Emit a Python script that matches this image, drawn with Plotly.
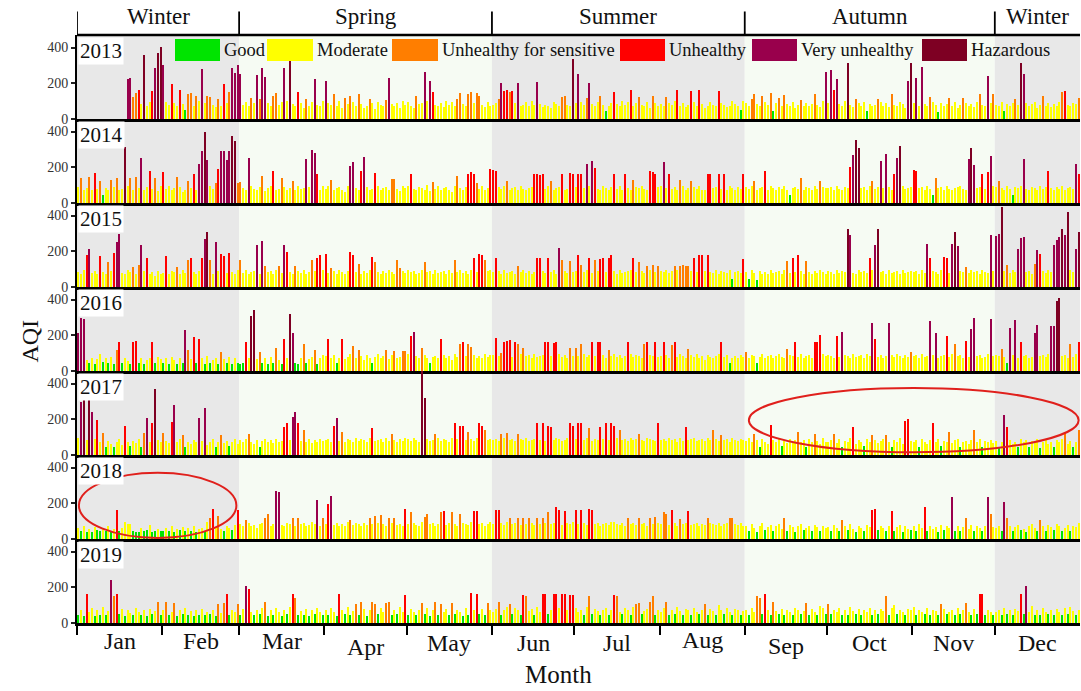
import numpy as np
import plotly.graph_objects as go
from plotly.subplots import make_subplots

# ---------------------------------------------------------------- data
YEARS = [2013, 2014, 2015, 2016, 2017, 2018, 2019]
MONTHS = ["Jan", "Feb", "Mar", "Apr", "May", "Jun",
          "Jul", "Aug", "Sep", "Oct", "Nov", "Dec"]
MONTH_DAYS = [31, 28, 31, 30, 31, 30, 31, 31, 30, 31, 30, 31]
SEASONS = ["Winter", "Spring", "Summer", "Autumn", "Winter"]
SEASON_FIRST_MONTH = [0, 2, 5, 8, 11, 12]

CATEGORIES = ["Good", "Moderate", "Unhealthy for sensitive", "Unhealthy",
              "Very unhealthy", "Hazardous"]
CATEGORY_UPPER = [50, 100, 150, 200, 300]
CATEGORY_COLORS = ["#00e400", "#ffff00", "#ff7e00", "#ff0000", "#99004c", "#7e0023"]

# daily AQI, one list per month
AQI_2013 = [
    [None] * 18 + [225, 228, 125, 145, 160, 85, 360, 75, 95, 155, 285, 370, 405],
    [300, 95, 80, 195, 90, 70, 160, 85, 48, 140, 145, 75, 130, 100, 280, 90, 130, 125, 80, 65,
     110, 70, 195, 90, 150, 283, 255, 300],
    [250, 80, 95, 70, 120, 90, 246, 110, 287, 236, 90, 75, 130, 147, 80, 95, 287, 100, 343, 85,
     70, 151, 90, 60, 110, 75, 95, 222, 80, 70, 100],
    [212, 90, 80, 141, 75, 100, 60, 120, 85, 130, 95, 70, 140, 85, 60, 75, 110, 90, 55, 95,
     80, 70, 105, 228, 85, 70, 90, 60, 100, 80],
    [95, 75, 60, 130, 85, 90, 263, 100, 212, 151, 80, 70, 90, 65, 100, 80, 95, 75, 110, 145,
     85, 70, 140, 150, 90, 145, 130, 80, 65, 95, 70],
    [80, 90, 110, 202, 155, 160, 150, 155, 90, 202, 75, 80, 95, 70, 100, 80, 205, 85, 65, 80,
     75, 60, 95, 85, 75, 121, 130, 80, 70, 333],
    [90, 252, 95, 80, 120, 202, 85, 70, 95, 131, 80, 44, 75, 90, 151, 85, 70, 100, 80, 95,
     160, 75, 90, 125, 80, 70, 95, 60, 130, 90, 75],
    [85, 70, 125, 90, 80, 100, 160, 75, 90, 65, 80, 155, 95, 70, 162, 85, 60, 75, 95, 80,
     70, 158, 90, 80, 65, 75, 100, 85, 70, 48, 100],
    [90, 75, 110, 140, 85, 70, 130, 95, 80, 145, 45, 90, 120, 75, 135, 85, 70, 95, 60, 80,
     105, 75, 90, 70, 85, 140, 80, 65, 100, 263],
    [90, 273, 160, 222, 85, 70, 100, 313, 80, 65, 110, 90, 75, 95, 42, 85, 70, 80, 110, 95,
     75, 90, 65, 141, 80, 70, 95, 85, 60, 212, 313],
    [90, 232, 75, 293, 85, 70, 125, 95, 80, 40, 90, 75, 85, 120, 70, 95, 60, 80, 115, 90,
     75, 85, 65, 95, 141, 80, 70, 242, 90, 141],
    [80, 70, 95, 45, 85, 75, 90, 110, 80, 313, 252, 90, 70, 85, 95, 60, 80, 130, 75, 90,
     65, 85, 70, 95, 150, 155, 80, 70, 90, 85, 115],
]

AQI_2014 = [
    [90, 140, 75, 85, 145, 70, 168, 80, 125, 45, 85, 75, 130, 90, 140, 70, 80, 312, 95, 140,
     75, 145, 85, 250, 70, 90, 178, 80, 140, 65, 95],
    [175, 80, 95, 70, 85, 145, 90, 60, 75, 125, 85, 160, 70, 219, 290, 400, 240, 95, 80, 110,
     190, 290, 290, 240, 290, 375, 345, 110],
    [120, 85, 70, 250, 95, 80, 75, 90, 150, 65, 85, 95, 181, 70, 80, 140, 90, 75, 85, 125,
     70, 95, 80, 85, 249, 90, 294, 280, 165, 75, 95],
    [80, 95, 130, 70, 85, 90, 75, 60, 95, 206, 230, 85, 70, 180, 256, 90, 75, 80, 168, 95,
     70, 85, 90, 75, 135, 135, 80, 65, 95, 85],
    [95, 160, 80, 70, 90, 85, 75, 100, 65, 120, 80, 95, 70, 85, 90, 75, 60, 95, 150, 85,
     70, 90, 165, 175, 165, 110, 80, 95, 75, 85, 190],
    [185, 178, 90, 80, 95, 125, 70, 85, 90, 75, 95, 80, 70, 85, 90, 160, 165, 155, 160, 80,
     95, 125, 70, 85, 90, 160, 75, 80, 170, 165],
    [90, 160, 165, 85, 219, 95, 234, 196, 80, 75, 95, 85, 70, 90, 160, 80, 95, 75, 165, 85,
     70, 130, 90, 85, 95, 80, 75, 180, 175, 165, 90],
    [95, 230, 85, 165, 80, 90, 75, 130, 95, 70, 85, 125, 90, 80, 95, 75, 70, 165, 160, 85,
     90, 165, 80, 160, 75, 95, 85, 70, 90, 80, 160],
    [90, 80, 95, 125, 70, 85, 90, 178, 75, 95, 85, 70, 90, 80, 95, 75, 45, 85, 90, 80,
     140, 75, 90, 85, 70, 95, 80, 125, 90, 85],
    [85, 90, 75, 95, 80, 70, 90, 85, 200, 271, 350, 305, 85, 90, 70, 95, 125, 80, 90, 234,
     85, 275, 90, 75, 165, 252, 318, 95, 80, 85, 90],
    [187, 178, 85, 90, 75, 95, 80, 45, 140, 85, 90, 75, 95, 80, 70, 85, 90, 95, 80, 75,
     249, 309, 210, 85, 90, 165, 80, 175, 262, 95],
    [90, 125, 85, 75, 95, 80, 45, 90, 85, 95, 249, 80, 75, 90, 85, 70, 95, 80, 90, 178,
     85, 75, 90, 80, 95, 70, 85, 90, 80, 219, 165],
]

AQI_2015 = [
    [85, 70, 95, 181, 211, 80, 90, 75, 175, 85, 70, 140, 90, 190, 252, 299, 80, 75, 95, 85,
     110, 70, 125, 237, 90, 160, 75, 85, 60, 90, 70],
    [80, 172, 75, 90, 85, 110, 70, 95, 80, 150, 160, 85, 70, 90, 160, 271, 308, 150, 75, 252,
     90, 185, 175, 80, 190, 85, 70, 95],
    [150, 80, 95, 70, 85, 90, 234, 75, 256, 120, 85, 90, 70, 95, 120, 80, 237, 196, 85, 75,
     115, 90, 80, 95, 70, 85, 150, 90, 160, 178, 95],
    [185, 80, 105, 90, 75, 95, 85, 70, 90, 196, 178, 85, 130, 75, 90, 80, 95, 168, 140, 85,
     70, 90, 80, 95, 85, 75, 150, 105, 90, 80],
    [95, 85, 90, 75, 80, 95, 140, 85, 90, 70, 95, 80, 85, 90, 75, 95, 80, 150, 85, 95,
     80, 90, 75, 95, 160, 85, 185, 178, 150, 90, 95],
    [85, 160, 90, 75, 95, 80, 85, 90, 70, 120, 85, 95, 80, 90, 75, 85, 160, 160, 90, 80,
     160, 85, 95, 75, 219, 150, 90, 80, 145, 85],
    [90, 178, 125, 85, 95, 160, 80, 150, 90, 155, 160, 85, 165, 181, 90, 75, 95, 80, 85, 90,
     95, 160, 85, 140, 90, 80, 120, 95, 125, 85, 120],
    [90, 85, 95, 80, 90, 115, 95, 120, 125, 120, 115, 90, 160, 85, 181, 181, 90, 181, 85, 80,
     95, 75, 90, 85, 80, 95, 42, 85, 90, 80, 155],
    [85, 45, 95, 80, 40, 90, 75, 85, 70, 95, 80, 85, 90, 75, 95, 145, 80, 160, 85, 181,
     90, 75, 145, 85, 70, 90, 80, 95, 85, 75],
    [90, 85, 75, 95, 80, 90, 85, 323, 290, 80, 75, 95, 85, 90, 80, 160, 95, 237, 323, 85,
     90, 75, 95, 80, 85, 90, 75, 95, 80, 85, 90],
    [85, 90, 75, 95, 80, 243, 160, 90, 85, 75, 95, 168, 160, 80, 243, 305, 230, 90, 85, 110,
     80, 95, 85, 90, 75, 95, 85, 80, 290, 90],
    [285, 299, 449, 90, 125, 80, 95, 85, 215, 275, 280, 85, 90, 75, 131, 206, 187, 90, 80, 95,
     85, 234, 262, 280, 323, 290, 421, 95, 85, 215, 309],
]

AQI_2016 = [
    [215, 299, 290, 60, 45, 70, 40, 65, 95, 50, 75, 42, 80, 38, 120, 160, 45, 70, 55, 40,
     165, 168, 45, 70, 38, 60, 75, 160, 42, 80, 65],
    [45, 70, 40, 80, 60, 38, 75, 45, 230, 120, 65, 192, 42, 178, 70, 40, 85, 45, 60, 75,
     40, 105, 65, 45, 80, 38, 70, 45],
    [40, 45, 160, 70, 309, 342, 65, 105, 42, 75, 40, 80, 45, 130, 60, 38, 178, 70, 318, 215,
     45, 40, 75, 150, 42, 65, 80, 120, 38, 70, 90],
    [85, 180, 70, 90, 45, 75, 178, 65, 80, 95, 140, 70, 120, 85, 60, 90, 75, 42, 80, 95,
     70, 85, 120, 65, 90, 110, 75, 80, 110, 110],
    [95, 196, 219, 85, 70, 130, 90, 75, 45, 80, 85, 70, 180, 90, 75, 85, 60, 95, 80, 150,
     165, 85, 150, 135, 90, 75, 85, 70, 95, 80, 90],
    [90, 185, 85, 103, 165, 170, 175, 80, 160, 150, 95, 130, 85, 90, 75, 95, 80, 85, 90, 160,
     165, 85, 155, 160, 95, 80, 90, 75, 130, 85],
    [130, 85, 150, 95, 80, 90, 160, 85, 165, 160, 90, 75, 120, 85, 95, 80, 90, 75, 85, 160,
     95, 80, 90, 85, 75, 150, 165, 90, 85, 160, 80],
    [85, 165, 90, 75, 145, 160, 80, 95, 85, 70, 125, 90, 80, 95, 75, 85, 60, 90, 80, 75,
     85, 95, 165, 80, 90, 45, 75, 85, 70, 90, 80],
    [105, 75, 90, 85, 45, 80, 95, 70, 85, 90, 75, 85, 95, 80, 70, 125, 90, 85, 160, 80,
     95, 75, 85, 90, 70, 160, 165, 200, 95, 85],
    [90, 85, 75, 195, 80, 219, 90, 85, 70, 95, 80, 85, 90, 75, 95, 85, 271, 178, 80, 90,
     75, 85, 267, 90, 80, 95, 85, 75, 90, 80, 105],
    [85, 90, 75, 95, 80, 85, 280, 90, 215, 75, 85, 90, 196, 80, 95, 150, 85, 90, 75, 168,
     80, 234, 299, 85, 90, 75, 80, 95, 290, 85],
    [90, 85, 125, 80, 45, 243, 90, 286, 75, 160, 85, 90, 75, 80, 215, 256, 85, 90, 80, 95,
     252, 252, 393, 406, 85, 90, 75, 150, 80, 95, 160],
]

AQI_2017 = [
    [95, 299, 308, 85, 308, 243, 90, 196, 70, 125, 45, 80, 60, 42, 75, 90, 55, 160, 70, 48,
     80, 65, 90, 45, 125, 206, 75, 181, 368, 85, 70],
    [125, 80, 65, 187, 280, 70, 90, 110, 45, 75, 60, 85, 70, 206, 80, 262, 55, 75, 90, 45,
     70, 110, 65, 80, 48, 75, 90, 60],
    [85, 70, 90, 120, 75, 60, 85, 45, 80, 90, 70, 85, 65, 90, 75, 80, 155, 178, 85, 215,
     243, 178, 80, 140, 70, 90, 65, 85, 75, 90, 80],
    [85, 90, 75, 165, 209, 80, 130, 70, 90, 85, 75, 95, 80, 90, 85, 70, 95, 153, 80, 85,
     90, 75, 95, 80, 120, 85, 70, 90, 80, 95],
    [90, 80, 95, 85, 75, 500, 318, 90, 80, 85, 120, 95, 80, 90, 85, 75, 95, 178, 90, 165,
     160, 85, 130, 90, 80, 95, 178, 165, 140, 85, 90],
    [85, 90, 80, 120, 95, 125, 85, 90, 80, 120, 90, 85, 95, 80, 85, 90, 178, 85, 181, 80,
     165, 155, 85, 95, 90, 80, 85, 95, 181, 160],
    [90, 181, 181, 85, 95, 150, 80, 90, 85, 155, 90, 178, 85, 181, 160, 95, 140, 85, 90, 80,
     95, 85, 90, 120, 85, 80, 95, 90, 85, 80, 181],
    [85, 90, 80, 95, 85, 90, 75, 95, 80, 155, 85, 90, 95, 80, 85, 90, 80, 95, 85, 140,
     90, 80, 110, 85, 90, 75, 95, 85, 80, 90, 85],
    [80, 95, 70, 120, 85, 45, 90, 75, 60, 170, 85, 70, 95, 48, 80, 65, 90, 75, 85, 130,
     70, 85, 45, 90, 75, 120, 80, 60, 95, 70],
    [75, 85, 120, 65, 90, 45, 80, 70, 95, 155, 60, 85, 75, 48, 90, 70, 110, 85, 65, 80,
     90, 110, 75, 45, 85, 70, 95, 60, 190, 200, 80],
    [70, 85, 45, 90, 75, 60, 85, 181, 70, 90, 48, 80, 75, 130, 65, 85, 90, 45, 70, 80,
     60, 85, 140, 75, 90, 45, 80, 70, 85, 65],
    [80, 45, 70, 224, 155, 85, 60, 75, 42, 90, 70, 85, 45, 80, 65, 90, 40, 75, 85, 60,
     70, 45, 85, 75, 90, 130, 60, 80, 45, 75, 140],
]

AQI_2018 = [
    [60, 45, 70, 40, 55, 38, 65, 48, 42, 60, 45, 70, 40, 55, 165, 42, 60, 95, 85, 85,
     45, 40, 38, 60, 42, 48, 80, 40, 45, 55, 42],
    [45, 60, 42, 70, 40, 55, 48, 65, 42, 60, 45, 70, 40, 58, 62, 45, 95, 120, 168, 60,
     131, 55, 45, 70, 60, 48, 80, 160],
    [85, 70, 105, 90, 75, 80, 60, 85, 90, 120, 140, 75, 85, 271, 262, 80, 70, 90, 85, 115,
     75, 120, 85, 90, 70, 80, 95, 85, 219, 75, 120],
    [85, 196, 243, 80, 90, 75, 85, 70, 95, 105, 80, 90, 85, 75, 90, 80, 120, 85, 130, 90,
     135, 85, 75, 120, 90, 115, 80, 85, 70, 168],
    [85, 150, 90, 80, 75, 95, 125, 140, 85, 90, 75, 85, 150, 155, 80, 90, 150, 85, 75, 140,
     90, 85, 80, 95, 155, 155, 85, 90, 75, 85, 95],
    [85, 160, 160, 90, 80, 95, 120, 85, 90, 115, 80, 120, 85, 115, 90, 80, 120, 85, 120, 90,
     150, 85, 90, 178, 160, 80, 155, 90, 85, 95],
    [160, 85, 160, 90, 80, 170, 160, 85, 90, 75, 85, 90, 80, 95, 95, 85, 80, 90, 75, 120,
     85, 90, 80, 115, 85, 90, 75, 115, 85, 125, 90],
    [85, 150, 140, 80, 165, 90, 75, 110, 85, 90, 155, 80, 85, 90, 75, 85, 80, 115, 90, 85,
     80, 90, 75, 85, 90, 120, 120, 85, 80, 90, 75],
    [70, 45, 85, 60, 40, 75, 90, 48, 65, 80, 42, 70, 85, 55, 115, 45, 80, 65, 40, 75,
     85, 48, 60, 70, 42, 80, 65, 45, 75, 60],
    [65, 45, 80, 60, 42, 105, 70, 48, 85, 55, 40, 75, 60, 45, 80, 65, 165, 170, 48, 70,
     60, 42, 75, 158, 45, 65, 80, 40, 70, 55, 48],
    [70, 45, 85, 60, 181, 42, 75, 55, 65, 40, 80, 48, 70, 60, 234, 45, 75, 42, 65, 115,
     55, 80, 45, 70, 60, 42, 75, 234, 140, 65],
    [60, 75, 45, 206, 120, 70, 42, 65, 80, 48, 55, 40, 70, 85, 60, 45, 105, 75, 42, 80,
     65, 48, 85, 70, 45, 60, 80, 42, 75, 65, 90],
]

AQI_2019 = [
    [45, 75, 40, 160, 60, 85, 38, 70, 45, 90, 42, 65, 243, 150, 160, 48, 80, 40, 75, 55,
     42, 85, 60, 45, 70, 38, 80, 48, 65, 115, 42],
    [70, 115, 45, 60, 110, 40, 75, 48, 85, 42, 65, 38, 70, 45, 80, 42, 60, 48, 75, 40,
     105, 55, 110, 165, 42, 70, 60, 105],
    [45, 80, 205, 192, 60, 42, 75, 48, 85, 115, 40, 70, 45, 85, 60, 38, 75, 48, 90, 160,
     140, 42, 65, 45, 80, 40, 70, 48, 85, 60, 42],
    [75, 45, 85, 60, 40, 160, 70, 48, 90, 42, 65, 105, 45, 120, 80, 38, 70, 115, 105, 48,
     85, 60, 110, 115, 42, 75, 48, 90, 60, 155],
    [45, 80, 60, 42, 75, 110, 48, 85, 40, 70, 115, 45, 105, 60, 80, 42, 110, 48, 75, 60,
     40, 85, 45, 168, 70, 165, 48, 80, 42, 110, 75],
    [60, 80, 115, 45, 75, 90, 105, 48, 85, 70, 42, 155, 150, 65, 80, 45, 90, 60, 160, 165,
     48, 75, 160, 165, 85, 165, 162, 70, 158, 155],
    [85, 60, 75, 45, 90, 150, 48, 80, 65, 42, 75, 85, 45, 70, 155, 150, 60, 48, 85, 75,
     42, 90, 105, 110, 48, 65, 80, 115, 150, 45, 70],
    [60, 85, 115, 45, 75, 48, 90, 65, 42, 80, 70, 45, 85, 60, 48, 75, 105, 42, 80, 65,
     45, 100, 70, 48, 85, 60, 42, 80, 75, 45, 65],
    [70, 45, 85, 60, 150, 140, 48, 165, 75, 42, 120, 65, 48, 80, 45, 75, 60, 42, 85, 70,
     48, 65, 110, 45, 80, 60, 42, 95, 85, 48],
    [105, 48, 75, 60, 85, 42, 70, 45, 90, 65, 48, 80, 42, 75, 60, 85, 45, 70, 48, 80,
     65, 150, 42, 85, 100, 48, 70, 60, 45, 80, 75],
    [90, 45, 75, 60, 48, 85, 42, 70, 65, 45, 105, 80, 48, 60, 75, 42, 85, 48, 70, 110,
     60, 45, 80, 48, 160, 165, 42, 75, 60, 45],
    [60, 75, 45, 85, 48, 70, 42, 80, 65, 165, 48, 205, 60, 95, 45, 75, 42, 85, 60, 48,
     70, 45, 80, 60, 42, 85, 48, 90, 65, 45, 75],
]

AQI_BY_YEAR = [AQI_2013, AQI_2014, AQI_2015, AQI_2016, AQI_2017, AQI_2018, AQI_2019]

# ---------------------------------------------------------------- helpers
SERIF = "Liberation Serif"
Y_MAX = 470
month_start = np.concatenate([[0], np.cumsum(MONTH_DAYS)[:-1]])
month_edges = np.concatenate([month_start, [sum(MONTH_DAYS)]]) + 0.5


def category_of(v):
    return int(np.searchsorted(CATEGORY_UPPER, v, side="left"))


def daily_series(months):
    days, vals = [], []
    for m, month_vals in enumerate(months):
        for i, v in enumerate(month_vals):
            if v is None:
                continue
            days.append(int(month_start[m]) + i + 1)
            vals.append(v)
    return days, vals


n_rows = len(YEARS)
fig = make_subplots(rows=n_rows, cols=1, shared_xaxes=True, vertical_spacing=0)

for r, (year, months) in enumerate(zip(YEARS, AQI_BY_YEAR), start=1):
    days, vals = daily_series(months)
    colors = [CATEGORY_COLORS[category_of(v)] for v in vals]
    fig.add_trace(
        go.Bar(x=days, y=vals, marker=dict(color=colors, line=dict(width=0)),
               width=0.45, showlegend=False, name=str(year)),
        row=r, col=1,
    )

# ---------------------------------------------------------------- axes
for r in range(1, n_rows + 1):
    fig.update_yaxes(
        row=r, col=1, range=[0, Y_MAX], tickvals=[0, 200, 400],
        ticks="outside", ticklen=4, tickwidth=1.5, tickcolor="#222",
        showline=True, linecolor="black", linewidth=2,
        showgrid=False, zeroline=False,
        tickfont=dict(family=SERIF, size=14, color="#333"),
    )
    fig.update_xaxes(
        row=r, col=1, range=[0.5, 365.5], showgrid=False, zeroline=False,
        showline=True, linecolor="black", linewidth=2.5,
        tickvals=list(month_edges[:-1]), showticklabels=False,
        ticks="outside" if r == n_rows else "", ticklen=9, tickwidth=2,
        tickcolor="black",
    )

# ---------------------------------------------------------------- season shading and header
season_fill = ["#e8e8e8", "#f6fbf3", "#e8e8e8", "#f6fbf3", "#e8e8e8"]
shapes = []
for s in range(len(SEASONS)):
    x0 = month_edges[SEASON_FIRST_MONTH[s]]
    x1 = month_edges[SEASON_FIRST_MONTH[s + 1]]
    shapes.append(dict(type="rect", xref="x", yref="paper", x0=x0, x1=x1, y0=0, y1=1,
                       fillcolor=season_fill[s], line=dict(width=0), layer="below"))
    shapes.append(dict(type="line", xref="x", yref="paper", x0=x0, x1=x0, y0=1, y1=1.04,
                       line=dict(color="black", width=1.8)))
shapes.append(dict(type="line", xref="x", yref="paper", x0=0.5, x1=365.5, y0=1, y1=1,
                   line=dict(color="black", width=2.5)))

annotations = []
for s, name in enumerate(SEASONS):
    xc = 0.5 * (month_edges[SEASON_FIRST_MONTH[s]] + month_edges[SEASON_FIRST_MONTH[s + 1]])
    annotations.append(dict(x=xc, y=1.032, xref="x", yref="paper", text=name,
                            xanchor="center", yanchor="middle", showarrow=False,
                            font=dict(family=SERIF, size=23, color="#111")))

# month labels centred in each month
month_dy = [0, 0, 0, -6, -2, -2, -2, 1, -5, -2, -2, -2]
for m, name in enumerate(MONTHS):
    xc = 0.5 * (month_edges[m] + month_edges[m + 1])
    annotations.append(dict(x=xc, y=-0.031, xref="x", yref="paper", text=name,
                            xanchor="center", yanchor="middle", showarrow=False,
                            yshift=month_dy[m],
                            font=dict(family=SERIF, size=24, color="#111")))

annotations.append(dict(x=0.48, y=-0.088, xref="paper", yref="paper", text="Month",
                        xanchor="center", yanchor="middle", showarrow=False,
                        font=dict(family=SERIF, size=25, color="#111")))
annotations.append(dict(x=-0.047, y=0.48, xref="paper", yref="paper", text="AQI",
                        xanchor="center", yanchor="middle", textangle=-90,
                        showarrow=False, font=dict(family=SERIF, size=24, color="#111")))

# year tags in the top-left corner of each panel
for r, year in enumerate(YEARS):
    annotations.append(dict(x=0.001, y=1 - r / n_rows - 0.003, xref="paper", yref="paper",
                            xanchor="left", yanchor="top", text=str(year), showarrow=False,
                            bgcolor="white", borderpad=1,
                            font=dict(family=SERIF, size=21, color="#111")))

# category key inside the first panel
key_boxes = [(175, 220), (267, 313), (392, 438), (620, 665), (752, 797), (922, 967)]
plot_left, plot_w, plot_bottom, plot_h = 77, 1003, 623, 588
for (b0, b1), name, color in zip(key_boxes, CATEGORIES, CATEGORY_COLORS):
    shapes.append(dict(type="rect", xref="paper", yref="paper",
                       x0=(b0 - plot_left) / plot_w, x1=(b1 - plot_left) / plot_w,
                       y0=(plot_bottom - 61) / plot_h, y1=(plot_bottom - 39) / plot_h,
                       fillcolor=color, line=dict(width=0)))
    annotations.append(dict(x=(b1 + 2 - plot_left) / plot_w, y=(plot_bottom - 50) / plot_h,
                            xref="paper", yref="paper", xanchor="left", yanchor="middle",
                            text=name, showarrow=False,
                            font=dict(family=SERIF, size=18.5, color="#111")))

# highlighted periods
shapes.append(dict(type="circle", xref="x5", yref="y5", x0=245, x1=365, y0=15, y1=375,
                   line=dict(color="#e0201c", width=2)))
shapes.append(dict(type="circle", xref="x6", yref="y6", x0=1.2, x1=58.5, y0=6, y1=370,
                   line=dict(color="#e0201c", width=2)))

fig.update_layout(
    width=1081, height=691,
    margin=dict(l=77, r=1, t=35, b=68),
    paper_bgcolor="white", plot_bgcolor="white",
    bargap=0, barmode="overlay",
    shapes=shapes, annotations=annotations,
    font=dict(family=SERIF),
)

fig.write_html("out.html")
